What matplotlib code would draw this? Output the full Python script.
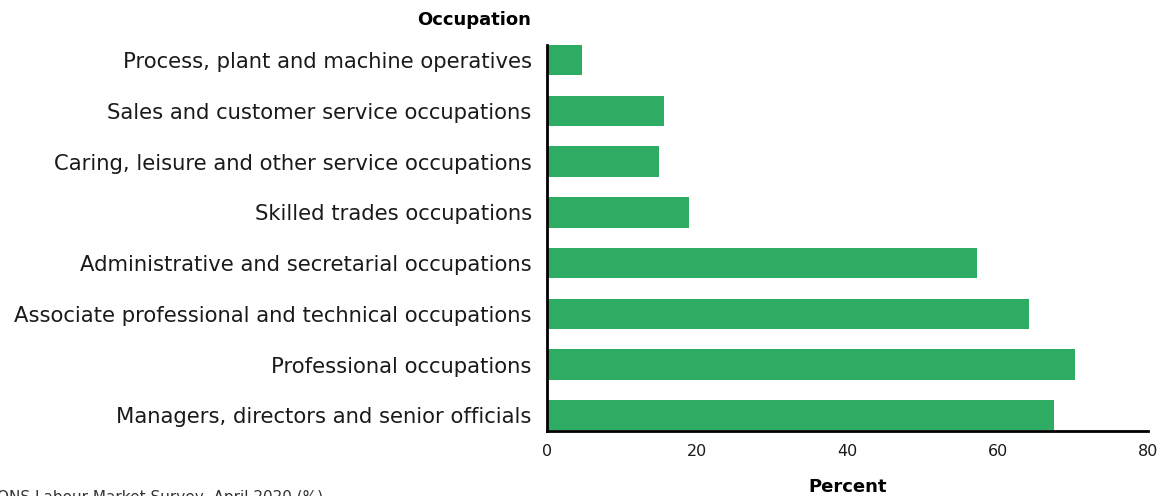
import matplotlib
matplotlib.use("Agg")
import matplotlib.pyplot as plt

categories = [
    "Managers, directors and senior officials",
    "Professional occupations",
    "Associate professional and technical occupations",
    "Administrative and secretarial occupations",
    "Skilled trades occupations",
    "Caring, leisure and other service occupations",
    "Sales and customer service occupations",
    "Process, plant and machine operatives",
]
values = [67.5, 70.3, 64.1, 57.2, 18.9, 14.9, 15.6, 4.7]
xticks = [0, 20, 40, 60, 80]

plt.rcParams['font.family'] = ['DejaVu Sans']

fig = plt.figure(figsize=(11.66, 4.96), dpi=100)
ax = fig.add_axes([547/1166, 1-431/496, (1148-547)/1166, (431-45)/496])

ax.barh(range(len(categories)), values, height=0.6, color="#2fac63")
ax.set_ylim(-0.31, 7.3)
ax.set_xlim(0, 80)
ax.set_yticks(range(len(categories)))
ax.set_yticklabels(categories, fontsize=15.2, color="#1a1a1a")
ax.set_xticks(xticks)
ax.set_xticklabels([str(t) for t in xticks], fontsize=11.5, color="#1a1a1a")
ax.tick_params(axis='y', length=0, pad=11)
ax.tick_params(axis='x', length=0, pad=9)
ax.set_xticks([80], minor=True)
ax.tick_params(axis='x', which='minor', direction='in', length=6, width=2, color='black')

for s in ['top', 'right']:
    ax.spines[s].set_visible(False)
for s in ['left', 'bottom']:
    ax.spines[s].set_linewidth(2)
    ax.spines[s].set_color('black')

ax.set_xlabel("Percent", fontsize=13, fontweight='bold', labelpad=14)
fig.text(531/1166, 1-20/496, "Occupation", fontsize=13, fontweight='bold',
         ha='right', va='center')
fig.text(-0.003, 1-490/496, "ONS Labour Market Survey, April 2020 (%)", fontsize=11,
         ha='left', va='top', color="#333333")

fig.savefig("out.png", dpi=100)
